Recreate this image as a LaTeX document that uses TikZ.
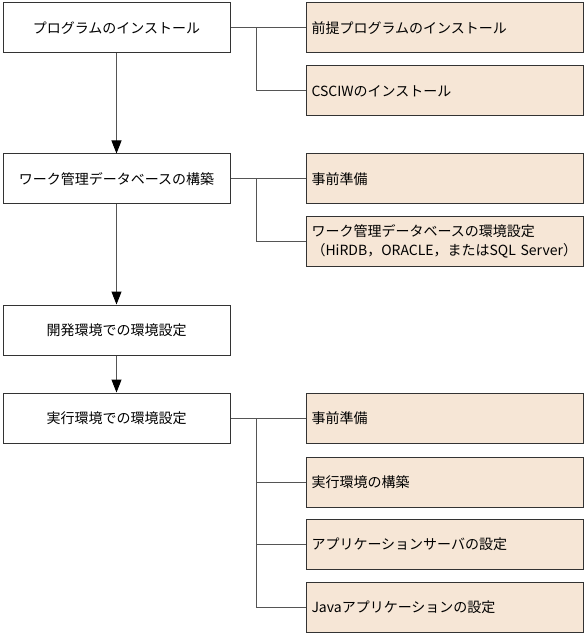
\documentclass[tikz,border=0pt]{standalone}
\usepackage{fontspec}
\setmainfont{Noto Sans CJK JP}
\usetikzlibrary{arrows.meta}
\definecolor{boxline}{HTML}{333333}
\definecolor{conn}{HTML}{555555}
\definecolor{subfill}{HTML}{F6E6D6}
\tikzset{
  mainbox/.style={draw=boxline, line width=1pt, fill=white, minimum width=227pt, minimum height=50pt, inner sep=0pt, font=\fontsize{14}{16}\selectfont},
  subbox/.style={draw=boxline, line width=1pt, fill=subfill, minimum width=277pt, minimum height=50pt, text width=266pt, inner sep=0pt, align=left, font=\fontsize{14}{19}\selectfont},
  link/.style={draw=conn, line width=1pt},
  flow/.style={draw=conn, line width=1pt, -{Triangle[length=13pt,width=10pt,fill=black,color=black]}}
}
\begin{document}
\begin{tikzpicture}[x=1pt,y=-1pt]
\useasboundingbox (0,0) rectangle (587,636);
% main steps
\node[mainbox] (L1) at (116.5,28) {プログラムのインストール};
\node[mainbox] (L2) at (116.5,179) {ワーク管理データベースの構築};
\node[mainbox] (L3) at (116.5,330) {開発環境での環境設定};
\node[mainbox] (L4) at (116.5,418) {実行環境での環境設定};
% sub steps
\node[subbox] (R1) at (444.5,28) {前提プログラムのインストール};
\node[subbox] (R2) at (444.5,91) {CSCIWのインストール};
\node[subbox] (R3) at (444.5,179) {事前準備};
\node[subbox] (R4) at (444.5,241) {\mbox{ワーク管理データベースの環境設定}\\\mbox{（HiRDB，ORACLE，またはSQL Server）}};
\node[subbox] (R5) at (444.5,418) {事前準備};
\node[subbox] (R6) at (444.5,482) {実行環境の構築};
\node[subbox] (R7) at (444.5,544) {アプリケーションサーバの設定};
\node[subbox] (R8) at (444.5,607) {Javaアプリケーションの設定};
% junctions
\coordinate (J1) at (256,28);
\coordinate (J2) at (256,179);
\coordinate (J4) at (256,418);
% flow arrows
\draw[flow] (L1) -- (L2);
\draw[flow] (L2) -- (L3);
\draw[flow] (L3) -- (L4);
% links
\draw[link] (L1.east) -- (R1.west);
\draw[link] (J1) |- (R2.west);
\draw[link] (L2.east) -- (R3.west);
\draw[link] (J2) |- (R4.west);
\draw[link] (L4.east) -- (R5.west);
\draw[link] (J4) |- (R6.west);
\draw[link] (J4) |- (R7.west);
\draw[link] (J4) |- (R8.west);
\end{tikzpicture}
\end{document}
